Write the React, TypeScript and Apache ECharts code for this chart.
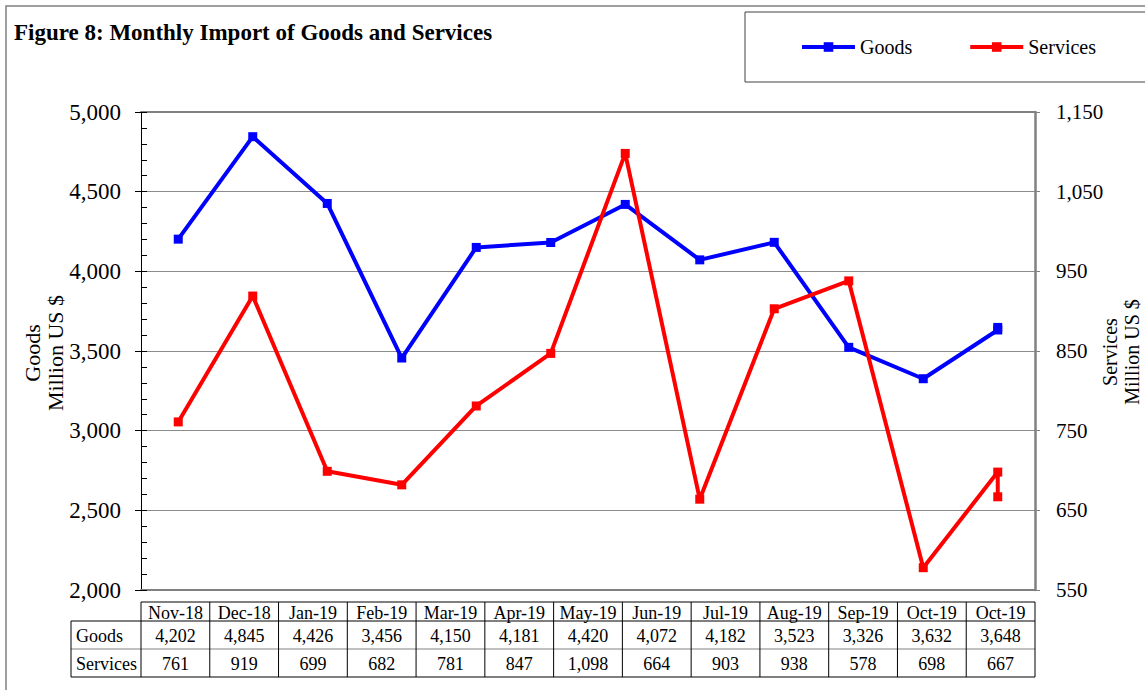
import React, { useEffect, useRef } from "react";
import * as echarts from "echarts";

const categories = ["Nov-18", "Dec-18", "Jan-19", "Feb-19", "Mar-19", "Apr-19", "May-19", "Jun-19", "Jul-19", "Aug-19", "Sep-19", "Oct-19", "Oct-19"];
const goods = [4202, 4845, 4426, 3456, 4150, 4181, 4420, 4072, 4182, 3523, 3326, 3632, 3648];
const services = [761, 919, 699, 682, 781, 847, 1098, 664, 903, 938, 578, 698, 667];
// the plot has 12 positions; the last value shares the 12th position
const slotCount = 12;
const leftAxis = { min: 2000, max: 5000, interval: 500, minor: 100 };
const rightAxis = { min: 550, max: 1150, interval: 100 };

const W = 1145;
const H = 690;
const GRID_L = 141;
const GRID_R = 1035;
const GRID_T = 112;
const GRID_B = 590;
const LABEL_L = 71;
const ROW_Y = [602, 621, 649, 677];
const FONT = '"Liberation Serif", "Times New Roman", serif';

const fmt = (v: number) => v.toLocaleString("en-US");

function buildTable(): any[] {
  const els: any[] = [];
  const n = categories.length;
  const colW = (GRID_R - GRID_L) / n;
  const line = (x1: number, y1: number, x2: number, y2: number, color: string) => ({
    type: "line",
    silent: true,
    shape: { x1, y1, x2, y2 },
    style: { stroke: color, lineWidth: 1 },
    z: 10,
  });
  els.push(line(GRID_L, ROW_Y[0], GRID_R, ROW_Y[0], "#000"));
  els.push(line(LABEL_L, ROW_Y[1], GRID_R, ROW_Y[1], "#000"));
  els.push(line(LABEL_L, ROW_Y[2], GRID_R, ROW_Y[2], "#808080"));
  els.push(line(LABEL_L, ROW_Y[3], GRID_R, ROW_Y[3], "#000"));
  els.push(line(LABEL_L, ROW_Y[1], LABEL_L, ROW_Y[3], "#000"));
  for (let k = 0; k <= n; k++) {
    const x = GRID_L + k * colW;
    els.push(line(x, ROW_Y[0], x, ROW_Y[3], "#000"));
  }
  const rows = [
    { label: "", values: categories },
    { label: "Goods", values: goods.map(fmt) },
    { label: "Services", values: services.map(fmt) },
  ];
  rows.forEach((r, ri) => {
    const cy = (ROW_Y[ri] + ROW_Y[ri + 1]) / 2 + 1;
    if (r.label) {
      els.push({
        type: "text",
        silent: true,
        x: LABEL_L + 5,
        y: cy,
        style: { text: r.label, font: `18px ${FONT}`, fill: "#000", align: "left", verticalAlign: "middle" },
        z: 10,
      });
    }
    r.values.forEach((t, ci) => {
      els.push({
        type: "text",
        silent: true,
        x: GRID_L + (ci + 0.5) * colW,
        y: cy,
        style: { text: t, font: `18px ${FONT}`, fill: "#000", align: "center", verticalAlign: "middle" },
        z: 10,
      });
    });
  });
  return els;
}

export default function App() {
  const ref = useRef<HTMLDivElement>(null);
  useEffect(() => {
    if (!ref.current) return;
    const chart = echarts.init(ref.current, null, { renderer: "svg" });
    const slots = categories.slice(0, slotCount);
    const toPoints = (arr: number[]) => arr.map((v, i) => [Math.min(i, slotCount - 1), v]);
    const borderLine = { show: true, lineStyle: { color: "#808080", width: 2 } };
    const option: any = {
      animation: false,
      backgroundColor: "#ffffff",
      textStyle: { fontFamily: FONT },
      grid: { left: GRID_L, right: W - GRID_R, top: GRID_T, bottom: H - GRID_B, containLabel: false },
      legend: {
        show: true,
        left: 795,
        top: 32,
        itemWidth: 53,
        itemHeight: 12,
        itemGap: 56,
        data: ["Goods", "Services"],
        lineStyle: { width: 4 },
        textStyle: { fontSize: 20, color: "#000", fontFamily: FONT },
      },
      xAxis: [
        {
          type: "category",
          data: slots,
          position: "bottom",
          boundaryGap: true,
          axisLine: borderLine,
          axisTick: { show: false },
          axisLabel: { show: false },
          splitLine: { show: false },
        },
        {
          type: "category",
          data: slots,
          position: "top",
          boundaryGap: true,
          axisLine: borderLine,
          axisTick: { show: false },
          axisLabel: { show: false },
          splitLine: { show: false },
        },
      ],
      yAxis: [
        {
          type: "value",
          position: "left",
          min: leftAxis.min,
          max: leftAxis.max,
          interval: leftAxis.interval,
          axisLine: { show: true, lineStyle: { color: "#000", width: 1 } },
          axisTick: { show: true, length: 6, lineStyle: { color: "#000" } },
          axisLabel: { formatter: (v: number) => fmt(v), fontSize: 23, color: "#000", margin: 20, fontFamily: FONT },
          splitLine: { show: true, lineStyle: { color: "#8c8c8c", width: 1 } },
        },
        {
          type: "value",
          position: "right",
          min: rightAxis.min,
          max: rightAxis.max,
          interval: rightAxis.interval,
          axisLine: { show: true, lineStyle: { color: "#808080", width: 2.5 } },
          axisTick: { show: true, length: 5, lineStyle: { color: "#808080" } },
          axisLabel: { formatter: (v: number) => fmt(v), fontSize: 21, color: "#000", margin: 21, fontFamily: FONT },
          splitLine: { show: false },
        },
        {
          type: "value",
          position: "left",
          min: leftAxis.min,
          max: leftAxis.max,
          interval: leftAxis.minor,
          axisLine: { show: false },
          axisTick: { show: true, inside: true, length: 6, lineStyle: { color: "#000" } },
          axisLabel: { show: false },
          splitLine: { show: false },
        },
      ],
      series: [
        {
          name: "Goods",
          type: "line",
          xAxisIndex: 0,
          yAxisIndex: 0,
          data: toPoints(goods),
          symbol: "rect",
          symbolSize: 9,
          lineStyle: { color: "#0000ff", width: 4 },
          itemStyle: { color: "#0000ff" },
          z: 3,
        },
        {
          name: "Services",
          type: "line",
          xAxisIndex: 0,
          yAxisIndex: 1,
          data: toPoints(services),
          symbol: "rect",
          symbolSize: 9,
          lineStyle: { color: "#ff0000", width: 4 },
          itemStyle: { color: "#ff0000" },
          z: 4,
        },
      ],
      graphic: [
        {
          type: "rect",
          silent: true,
          shape: { x: 6, y: 6, width: 1200, height: 720 },
          style: { fill: "none", stroke: "#808080", lineWidth: 1.5 },
          z: 1,
        },
        {
          type: "rect",
          silent: true,
          shape: { x: 745, y: 12, width: 500, height: 70 },
          style: { fill: "none", stroke: "#404040", lineWidth: 1 },
          z: 1,
        },
        {
          type: "text",
          silent: true,
          x: 14,
          y: 32,
          style: {
            text: "Figure 8: Monthly Import of Goods and Services",
            font: `bold 23px ${FONT}`,
            fill: "#000",
            align: "left",
            verticalAlign: "middle",
          },
        },
        {
          type: "text",
          silent: true,
          x: 44,
          y: 353,
          rotation: Math.PI / 2,
          style: {
            text: "Goods\nMillion US $",
            font: `22px ${FONT}`,
            lineHeight: 23,
            fill: "#000",
            align: "center",
            verticalAlign: "middle",
          },
        },
        {
          type: "text",
          silent: true,
          x: 1121,
          y: 352,
          rotation: Math.PI / 2,
          style: {
            text: "Services\nMillion US $",
            font: `20px ${FONT}`,
            lineHeight: 22,
            fill: "#000",
            align: "center",
            verticalAlign: "middle",
          },
        },
        ...buildTable(),
      ],
    };
    chart.setOption(option);
    return () => chart.dispose();
  }, []);
  return <div ref={ref} style={{ position: "fixed", left: 0, top: 0, width: W, height: H }} />;
}
